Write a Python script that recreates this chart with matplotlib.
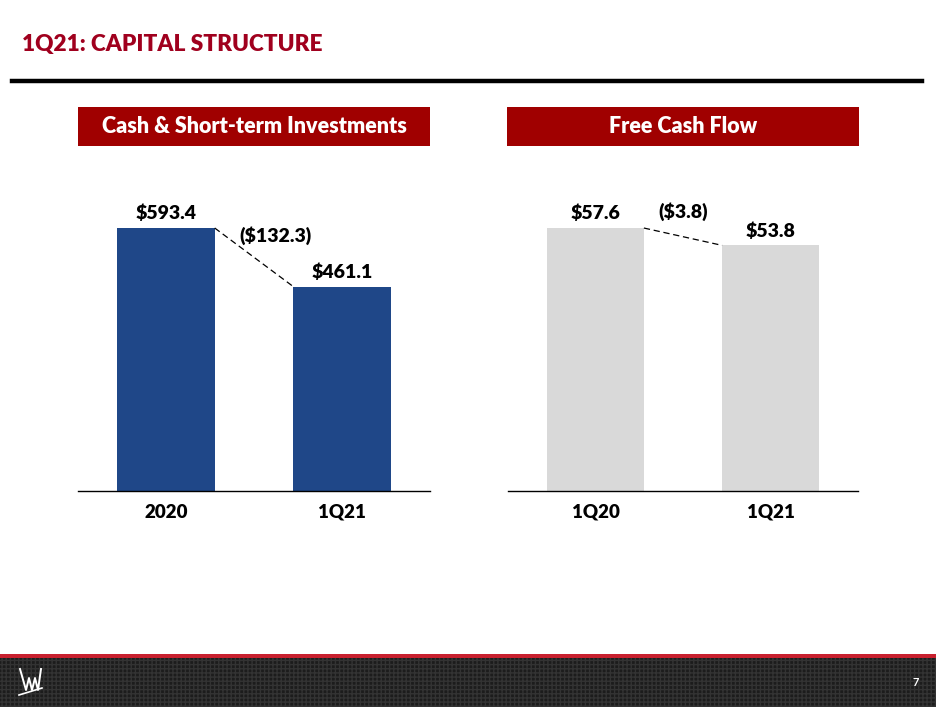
import matplotlib.pyplot as plt
from matplotlib.patches import Rectangle
from matplotlib.lines import Line2D

# données
cash_labels = ['2020', '1Q21']
cash_values = [593.4, 461.1]
cash_delta = '($132.3)'

fcf_labels = ['1Q20', '1Q21']
fcf_values = [57.6, 53.8]
fcf_delta = '($3.8)'

plt.rcParams['font.family'] = ['Lato', 'DejaVu Sans']

W, H = 936, 707
fig = plt.figure(figsize=(W / 100, H / 100), dpi=100)
fig.patch.set_facecolor('white')


def px(x0, y0, x1, y1):
    # rectangle en pixels (origine en haut à gauche) -> coordonnées figure
    return [x0 / W, 1 - y1 / H, (x1 - x0) / W, (y1 - y0) / H]


# titre et ligne noire
fig.text(22 / W, 1 - 45 / H, '1Q21: CAPITAL STRUCTURE', color='#A0001E',
         fontsize=16.3, fontweight='heavy', va='center', ha='left')
fig.add_artist(Line2D([12 / W, 922 / W], [1 - 81 / H, 1 - 81 / H], color='black', lw=3.2))


def panel(rect_head, titre, rect_ax, labels, values, couleur, delta, delta_pos, ymax):
    hx = fig.add_axes(px(*rect_head))
    hx.set_axis_off()
    hx.add_patch(Rectangle((0, 0), 1, 1, color='#A00000', transform=hx.transAxes))
    hx.text(0.5, 0.5, titre, color='white', fontsize=15.5, fontweight='heavy',
            ha='center', va='center', transform=hx.transAxes)

    ax = fig.add_axes(px(*rect_ax))
    x = range(len(values))
    ax.bar(x, values, width=0.553, color=couleur)
    ax.set_xlim(-0.5, 1.5)
    ax.set_ylim(0, ymax)
    for s in ['top', 'right', 'left']:
        ax.spines[s].set_visible(False)
    ax.spines['bottom'].set_color('black')
    ax.spines['bottom'].set_linewidth(1)
    ax.set_yticks([])
    ax.set_xticks(list(x))
    ax.set_xticklabels(labels, fontsize=13.5, fontweight='heavy')
    ax.tick_params(axis='x', length=0, pad=9)
    for i, v in enumerate(values):
        ax.annotate(f'${v:.1f}', (i, v), xytext=(0, 4), textcoords='offset points',
                    ha='center', va='bottom', fontsize=14, fontweight='heavy')
    # ligne pointillée entre les barres
    ax.plot([0 + 0.2765, 1 - 0.2765], [values[0], values[1]], color='black',
            lw=0.9, ls=(0, (5, 3)))
    ax.text(delta_pos[0], delta_pos[1], delta, ha='center', va='center',
            fontsize=14, fontweight='heavy')
    return ax


panel((78, 107, 430, 146), 'Cash & Short-term Investments', (78, 160, 430, 491),
      cash_labels, cash_values, '#1F4788', cash_delta, (0.62, 575), 746.8)
panel((507, 107, 859, 146), 'Free Cash Flow', (508, 160, 858, 491),
      fcf_labels, fcf_values, '#D9D9D9', fcf_delta, (0.5, 61.1), 72.5)

# pied de page
fx = fig.add_axes([0, 0, 1, 1], zorder=-1)
fx.set_axis_off()
fx.set_xlim(0, W)
fx.set_ylim(H, 0)
fx.add_patch(Rectangle((0, 657), W, 50, facecolor='#1c1c1c', edgecolor='#333333',
                       hatch='++++', lw=0))
fx.add_patch(Rectangle((0, 654), W, 4, color='#C8202E', lw=0))
# logo stylisé
fx.plot([20, 26, 29, 32, 35, 38, 41], [669, 690, 678, 690, 678, 690, 669], color='white', lw=1.4)
fx.plot([19, 42], [695, 688], color='white', lw=1.2)
fig.text(916 / W, 1 - 682 / H, '7', color='white', fontsize=8, fontweight='bold',
         ha='center', va='center')

fig.savefig('out.png', dpi=100)
